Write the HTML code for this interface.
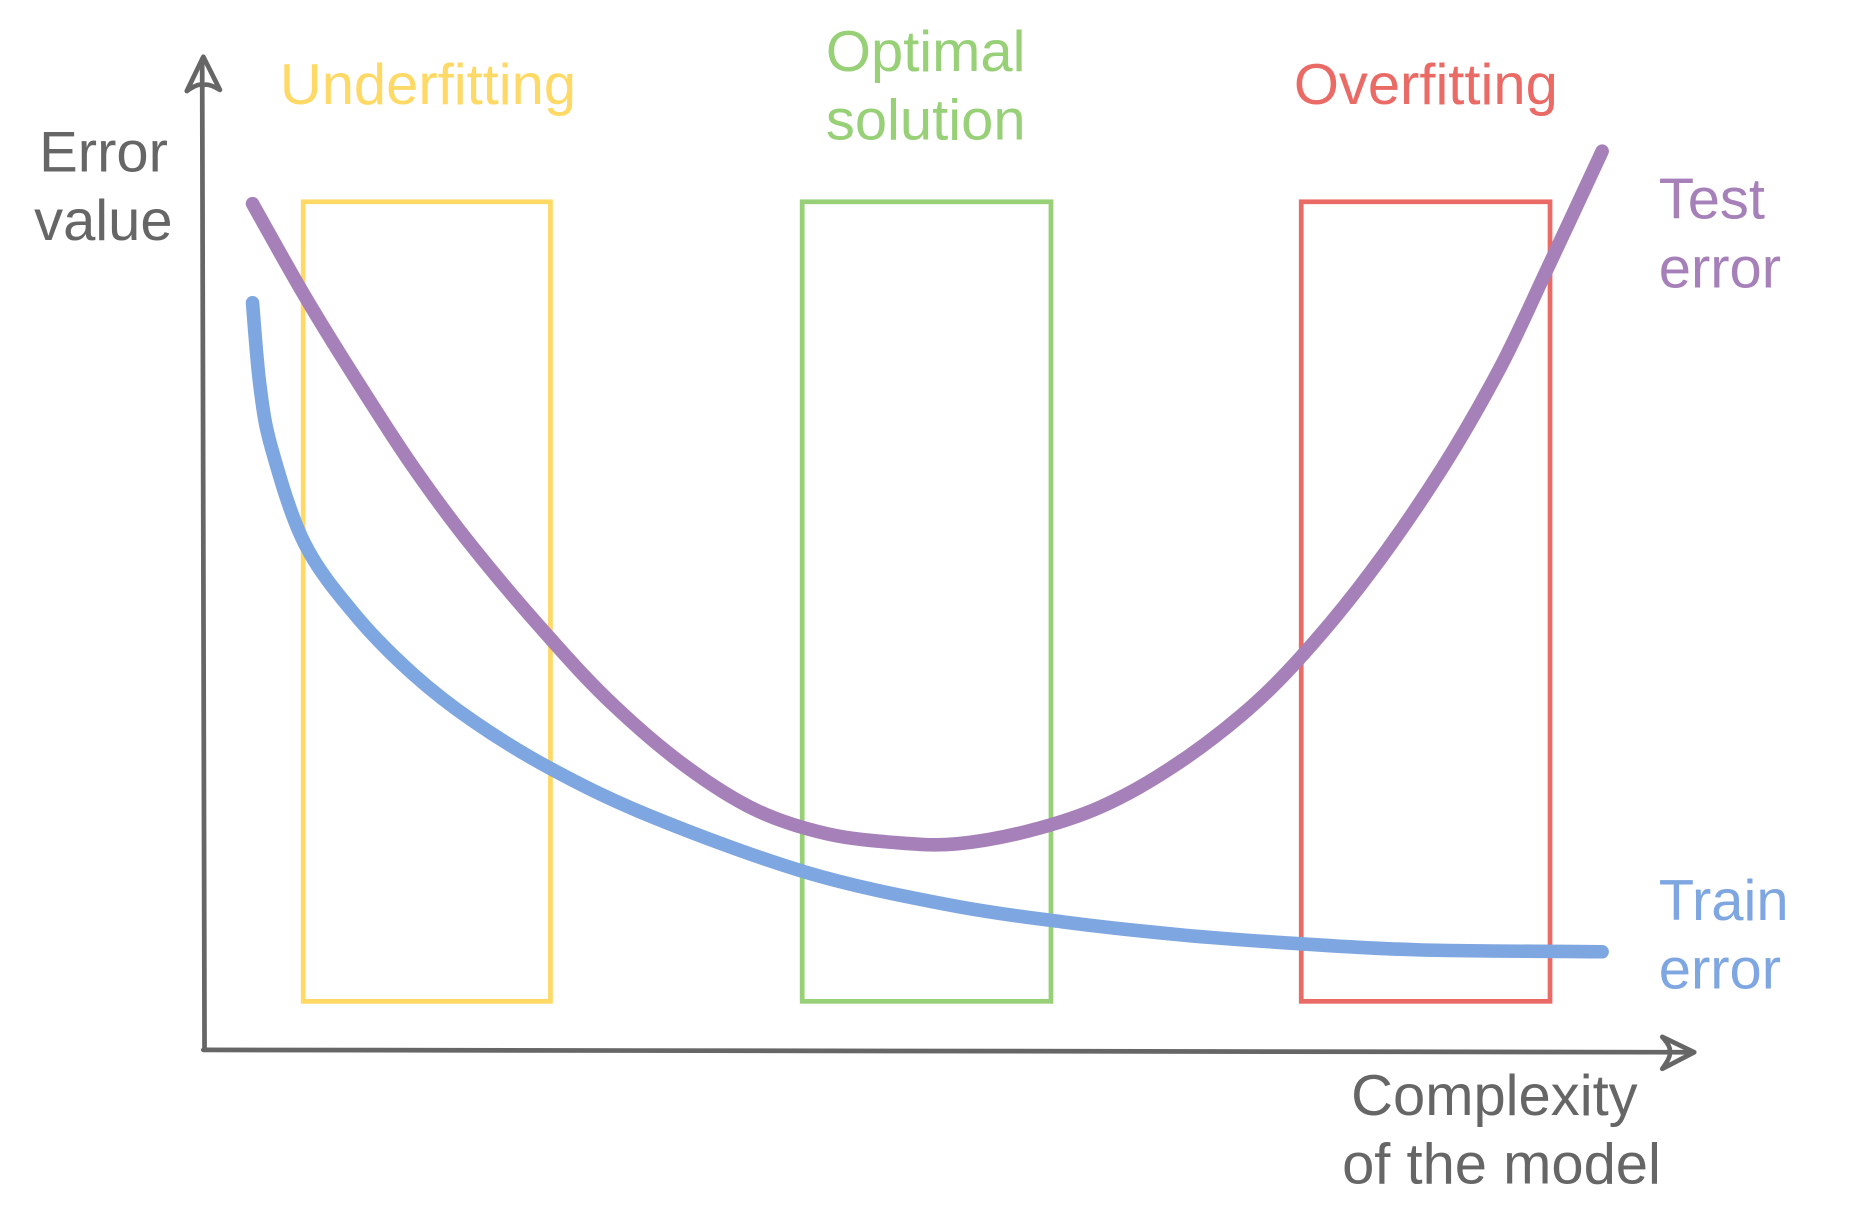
<!DOCTYPE html>
<html><head><meta charset="utf-8"><style>
html,body{margin:0;padding:0;background:#fff;}
svg{display:block;}
text{font-family:"Liberation Sans","DejaVu Sans",sans-serif;}
</style></head><body>
<svg id="chart" width="1855" height="1205" viewBox="0 0 1569 1019.2" preserveAspectRatio="none" xmlns="http://www.w3.org/2000/svg">
<g id="axes">
  <path d="M173,888 L171,50" stroke="#666" stroke-width="4" fill="none" stroke-linecap="round"/>
  <path d="M158,77 L172,48 L186,76 Q176,70 172,72 Q168,70 158,77" stroke="#666" stroke-width="4" fill="none" stroke-linejoin="round" stroke-linecap="round"/>
  <path d="M172,888 L1430,890" stroke="#666" stroke-width="4" fill="none" stroke-linecap="round"/>
  <path d="M1406,877 L1433,890 L1406,904 Q1414,893 1412,890 Q1414,886 1406,877" stroke="#666" stroke-width="4" fill="none" stroke-linejoin="round" stroke-linecap="round"/>
  <text x="142" y="145" text-anchor="end" font-size="49" fill="#666">Error</text>
  <text x="146" y="203" text-anchor="end" font-size="49" fill="#666">value</text>
  <text x="1264" y="943" text-anchor="middle" font-size="49" fill="#666">Complexity</text>
  <text x="1270" y="1001" text-anchor="middle" font-size="49" fill="#666">of the model</text>
</g>
<g id="regions"></g>
<g id="series"></g>
<g id="labels">
  <text x="362" y="88" text-anchor="middle" font-size="49" fill="#FFD966">Underfitting</text>
  <text x="783" y="60" text-anchor="middle" font-size="49" fill="#97D077">Optimal</text>
  <text x="783" y="118" text-anchor="middle" font-size="49" fill="#97D077">solution</text>
  <text x="1206" y="88" text-anchor="middle" font-size="49" fill="#EA6B66">Overfitting</text>
  <text x="1403" y="185" font-size="49" fill="#A680B8">Test</text>
  <text x="1403" y="243" font-size="49" fill="#A680B8">error</text>
  <text x="1403" y="778" font-size="49" fill="#7EA6E0">Train</text>
  <text x="1403" y="836" font-size="49" fill="#7EA6E0">error</text>
</g>
</svg>
<script>
const testX = [3.3, 6.8, 10.2, 14.1, 18.1, 23.3, 27.6, 32.4, 37.1, 41.9, 46.7, 50.6, 55.4, 60.2, 64.9, 69.7, 73.7, 78.4, 83.2, 87.1, 90.3, 93.9];
const testY = [85.4, 76.1, 67.8, 58.8, 50.7, 41.5, 34.7, 28.6, 24.2, 21.8, 20.9, 20.8, 22.1, 24.5, 28.4, 33.8, 39.7, 48.3, 58.8, 69.0, 79.1, 90.7];
const trainX = [3.3, 3.8, 4.6, 6.8, 10.2, 14.1, 18.1, 23.3, 30.0, 40.3, 49.8, 57.8, 65.7, 73.7, 81.6, 93.9];
const trainY = [75.4, 67.0, 60.6, 51.1, 43.9, 37.9, 33.2, 28.4, 23.6, 18.0, 14.7, 12.9, 11.6, 10.7, 10.1, 9.9];
const regionNames = ["underfitting", "optimal", "overfitting"];
const regionStart = [6.7, 40.2, 73.7];
const regionEnd = [23.3, 56.9, 90.4];
const regionTop = [85.6, 85.6, 85.6];
const regionBottom = [4.9, 4.9, 4.9];
const regionColors = ["#FFD966", "#97D077", "#EA6B66"];

const NS = "http://www.w3.org/2000/svg";
function sx(v){ return 172 + v * 12.6; }
function sy(v){ return 888 - v * 8.38; }

function smoothPath(xs, ys){
  const p = xs.map((x,i)=>[sx(x), sy(ys[i])]);
  let d = "M" + p[0][0].toFixed(1) + "," + p[0][1].toFixed(1);
  for (let i=0;i<p.length-1;i++){
    const p0=p[Math.max(0,i-1)], p1=p[i], p2=p[i+1], p3=p[Math.min(p.length-1,i+2)];
    const c1=[p1[0]+(p2[0]-p0[0])/6, p1[1]+(p2[1]-p0[1])/6];
    const c2=[p2[0]-(p3[0]-p1[0])/6, p2[1]-(p3[1]-p1[1])/6];
    d += " C"+c1[0].toFixed(1)+","+c1[1].toFixed(1)+" "+c2[0].toFixed(1)+","+c2[1].toFixed(1)+" "+p2[0].toFixed(1)+","+p2[1].toFixed(1);
  }
  return d;
}

const regions = document.getElementById("regions");
regionNames.forEach((n,i)=>{
  const r = document.createElementNS(NS,"rect");
  
  
  r.setAttribute("x", sx(regionStart[i]));
  r.setAttribute("y", sy(regionTop[i]));
  r.setAttribute("width", sx(regionEnd[i]) - sx(regionStart[i]));
  r.setAttribute("height", sy(regionBottom[i]) - sy(regionTop[i]));
  r.setAttribute("fill", "none");
  r.setAttribute("stroke", regionColors[i]);
  r.setAttribute("stroke-width", "4");
  regions.appendChild(r);
});

const series = document.getElementById("series");
const train = document.createElementNS(NS,"path");


train.setAttribute("d", smoothPath(trainX, trainY));
train.setAttribute("stroke", "#7EA6E0");
train.setAttribute("stroke-width", "11.5");
train.setAttribute("fill", "none");
train.setAttribute("stroke-linecap", "round");
series.appendChild(train);

const test = document.createElementNS(NS,"path");


test.setAttribute("d", smoothPath(testX, testY));
test.setAttribute("stroke", "#A680B8");
test.setAttribute("stroke-width", "11.5");
test.setAttribute("fill", "none");
test.setAttribute("stroke-linecap", "round");
series.appendChild(test);
</script>
</body></html>
